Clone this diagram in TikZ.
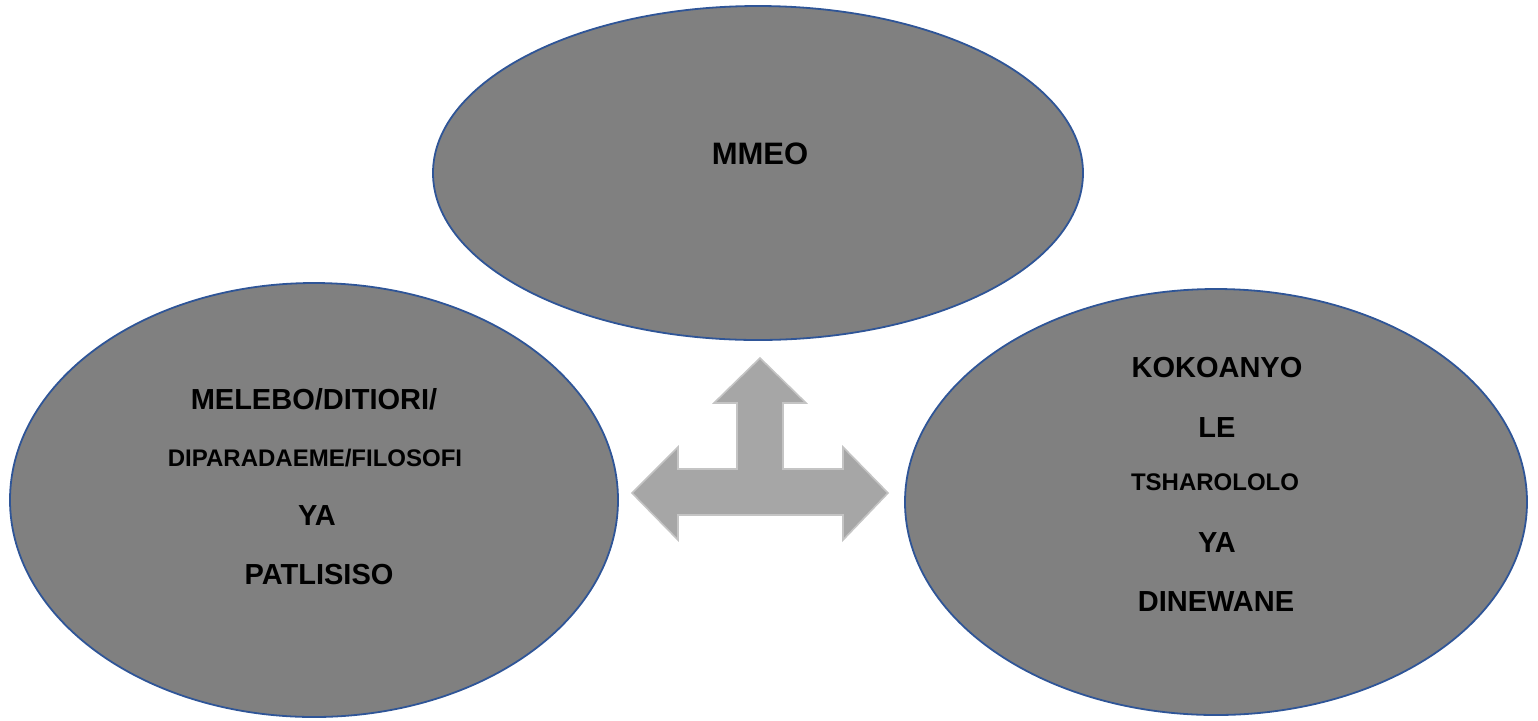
\documentclass[tikz,border=0pt]{standalone}
\usepackage{fontspec}
\setmainfont{Liberation Sans}
\usetikzlibrary{shapes.geometric}
\definecolor{bubblefill}{HTML}{808080}
\definecolor{bubbleedge}{HTML}{2F5597}
\definecolor{arrowfill}{HTML}{A6A6A6}
\definecolor{arrowedge}{HTML}{C4C4C4}
\begin{document}
\begin{tikzpicture}[x=0.5pt, y=-0.5pt,
			bubble/.style={ellipse, draw=bubbleedge, fill=bubblefill, line width=0.9pt, inner sep=0},
			bigtext/.style={anchor=base, font=\fontsize{14.5}{17}\selectfont\bfseries},
			smalltext/.style={anchor=base, font=\fontsize{12}{14}\selectfont\bfseries},
		]
		\useasboundingbox (0,0) rectangle (1538,720);
		\node[bubble, minimum width=325pt, minimum height=167pt] (mmeo) at (758,173) {};
		\node[bubble, minimum width=304pt, minimum height=217pt] (melebo) at (314,500) {};
		\node[bubble, minimum width=311pt, minimum height=213pt] (kokoanyo) at (1216,502) {};
		% three-way arrow
		\draw[fill=arrowfill, draw=arrowedge, line width=0.8pt]
			(760,358) -- (806,403) -- (783,403) -- (783,469) -- (843,469) -- (843,447)
			-- (888,493) -- (843,540) -- (843,515) -- (678,515) -- (678,540)
			-- (632,493) -- (678,447) -- (678,469) -- (737,469) -- (737,403)
			-- (714,403) -- cycle;
		% texts
		\node[bigtext, font=\fontsize{15.5}{18}\selectfont\bfseries] (t0) at (760,164) {MMEO};
		\node[bigtext] (l1) at (314,409) {MELEBO/DITIORI/};
		\node[smalltext] (l2) at (315,466) {DIPARADAEME/FILOSOFI};
		\node[bigtext] (l3) at (317,525) {YA};
		\node[bigtext] (l4) at (319,584) {PATLISISO};
		\node[bigtext] (r1) at (1217,377) {KOKOANYO};
		\node[bigtext] (r2) at (1217,437) {LE};
		\node[smalltext] (r3) at (1215,490) {TSHAROLOLO};
		\node[bigtext] (r4) at (1217,552) {YA};
		\node[bigtext] (r5) at (1216,611) {DINEWANE};
\end{tikzpicture}
\end{document}
